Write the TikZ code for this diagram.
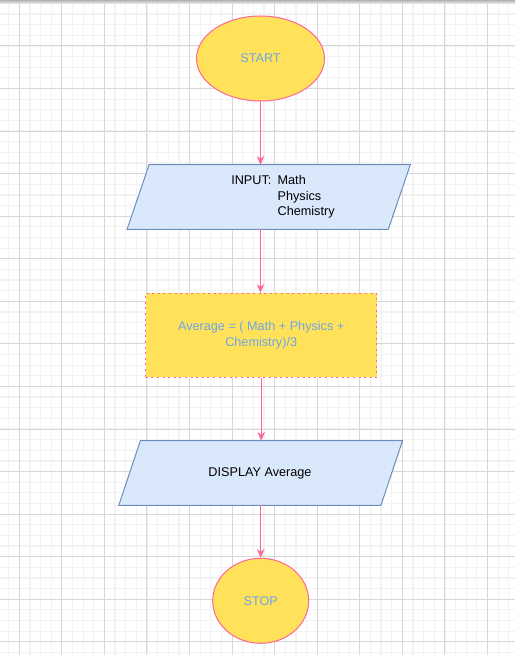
\documentclass[tikz,border=0pt]{standalone}
\usepackage{fontspec}
\setmainfont{Liberation Sans}
\usetikzlibrary{shapes.geometric,arrows.meta}
\definecolor{yel}{RGB}{255,226,89}
\definecolor{pinkline}{RGB}{255,102,150}
\definecolor{bluetext}{RGB}{110,165,230}
\definecolor{iofill}{RGB}{218,232,252}
\definecolor{ioline}{RGB}{108,142,191}
\definecolor{minorgrid}{RGB}{242,242,242}
\definecolor{majorgrid}{RGB}{215,215,215}
\tikzset{
  txt/.style={font=\fontsize{9.5}{11.5}\selectfont},
  terminal/.style={ellipse, draw=pinkline, fill=yel, line width=0.75pt, inner sep=0pt, text=bluetext, txt},
  procbox/.style={rectangle, draw=pinkline, fill=yel, line width=0.75pt, dash pattern=on 1.5pt off 2.7pt, text=bluetext, align=center, txt, inner sep=0pt},
  iobox/.style={rectangle, inner sep=0pt},
  ioshape/.style={draw=ioline, fill=iofill, line width=0.75pt, line join=miter},
  arr/.style={draw=pinkline, line width=0.8pt, -{Stealth[length=6.5pt,width=5.5pt,inset=2pt]}},
}
\begin{document}
\begin{tikzpicture}[x=0.75pt,y=-0.75pt]
\useasboundingbox (0,0) rectangle (515,655);
\fill[white] (0,0) rectangle (515,655);
% grid
\foreach \i in {0,...,48} {
  \pgfmathsetmacro\xx{8.66+\i*10.64}
  \draw[minorgrid, line width=0.9pt] (\xx,0) -- (\xx,655);
}
\foreach \i in {0,...,62} {
  \pgfmathsetmacro\yy{3.4+\i*10.64}
  \draw[minorgrid, line width=0.9pt] (0,\yy) -- (515,\yy);
}
\foreach \i in {0,...,11} {
  \pgfmathsetmacro\xx{19.3+\i*42.56}
  \draw[majorgrid, line width=0.75pt] (\xx,0) -- (\xx,655);
}
\foreach \i in {0,...,15} {
  \pgfmathsetmacro\yy{3.4+\i*42.56}
  \draw[majorgrid, line width=0.75pt] (0,\yy) -- (515,\yy);
}
\shade[top color=gray!60, bottom color=gray!8] (0,0) rectangle (515,4);

% START
\node[terminal, minimum width=96pt, minimum height=63.75pt] (start) at (260.5,58.5) {START};

% INPUT
\node[iobox, minimum width=195.5pt, minimum height=48pt] (in) at (268.7,197) {};
\path[ioshape] ([xshift=8.25pt]in.north west) -- ([xshift=8.25pt]in.north east)
  -- ([xshift=-8.25pt]in.south east) -- ([xshift=-8.25pt]in.south west) -- cycle;
\node[txt, anchor=west, inner sep=0pt] (intext) at (231,197)
  {\begin{tabular}{@{}l@{\hspace{4.7pt}}l@{}}INPUT: & Math\\ & Physics\\ & Chemistry\end{tabular}};

% PROCESS
\node[procbox, minimum width=173.25pt, minimum height=63pt] (proc) at (261.2,335.3)
  {Average = ( Math + Physics +\\Chemistry)/3};

% DISPLAY
\node[iobox, minimum width=196.2pt, minimum height=48pt] (disp) at (260.65,473) {};
\path[ioshape] ([xshift=8.1pt]disp.north west) -- ([xshift=8.1pt]disp.north east)
  -- ([xshift=-8.1pt]disp.south east) -- ([xshift=-8.1pt]disp.south west) -- cycle;
\node[txt, inner sep=0pt] (disptext) at (260,473.3) {DISPLAY Average};

% STOP
\node[terminal, minimum width=72pt, minimum height=63.75pt] (stop) at (260.7,600.8) {STOP};

% connectors
\draw[arr] (start.south) -- (start.south |- in.north);
\draw[arr] (in.south -| start.south) -- (start.south |- proc.north);
\draw[arr] (proc.south) -- (proc.south |- disp.north);
\draw[arr] (disp.south -| stop.north) -- (stop.north);
\end{tikzpicture}
\end{document}
